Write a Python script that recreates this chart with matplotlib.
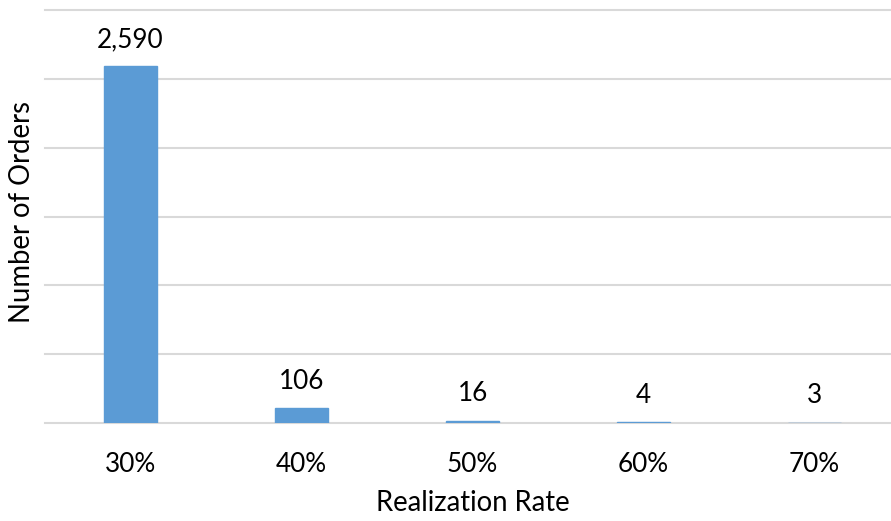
import matplotlib.pyplot as plt
import numpy as np

rates = ["30%", "40%", "50%", "60%", "70%"]
orders = [2590, 106, 16, 4, 3]
labels = ["2,590", "106", "16", "4", "3"]

plt.rcParams['font.family'] = ['Lato', 'DejaVu Sans']

W, H = 891, 521
fig = plt.figure(figsize=(W / 100, H / 100), dpi=100)
left, right = 45, 900
top, bottom = 10, 423
ax = fig.add_axes([left / W, 1 - bottom / H, (right - left) / W, (bottom - top) / H])
ax.set_axisbelow(True)

x = np.arange(len(rates))
ax.bar(x, orders, width=0.31, color="#5b9bd5", edgecolor="#5b9bd5",
       linewidth=1.0, zorder=3)
for xi, v, lab in zip(x, orders, labels):
    ax.annotate(lab, (xi, v), xytext=(0, 19.5), textcoords="offset points",
                ha="center", va="center", fontsize=18.8, color="#000000")

ax.set_xlim(-0.5, len(rates) - 0.5)
ax.set_ylim(0, 3000)
ax.set_yticks(np.arange(0, 3001, 500))
ax.set_yticklabels([])
ax.tick_params(axis="y", length=0)
ax.set_xticks(x)
ax.set_xticklabels(rates, fontsize=18.8)
ax.tick_params(axis="x", length=0, pad=21)
for s in ax.spines.values():
    s.set_visible(False)
ax.grid(axis="y", color="#d9d9d9", linewidth=1.5, zorder=0)
for gl in ax.get_ygridlines():
    gl.set_clip_on(False)

fig.text(22 / W, 1 - 212 / H, "Number of Orders", rotation=90, ha="center", va="center", fontsize=19.8)
fig.text(473 / W, 1 - 503 / H, "Realization Rate", ha="center", va="center", fontsize=19.8)

fig.savefig("out.png", dpi=100)
